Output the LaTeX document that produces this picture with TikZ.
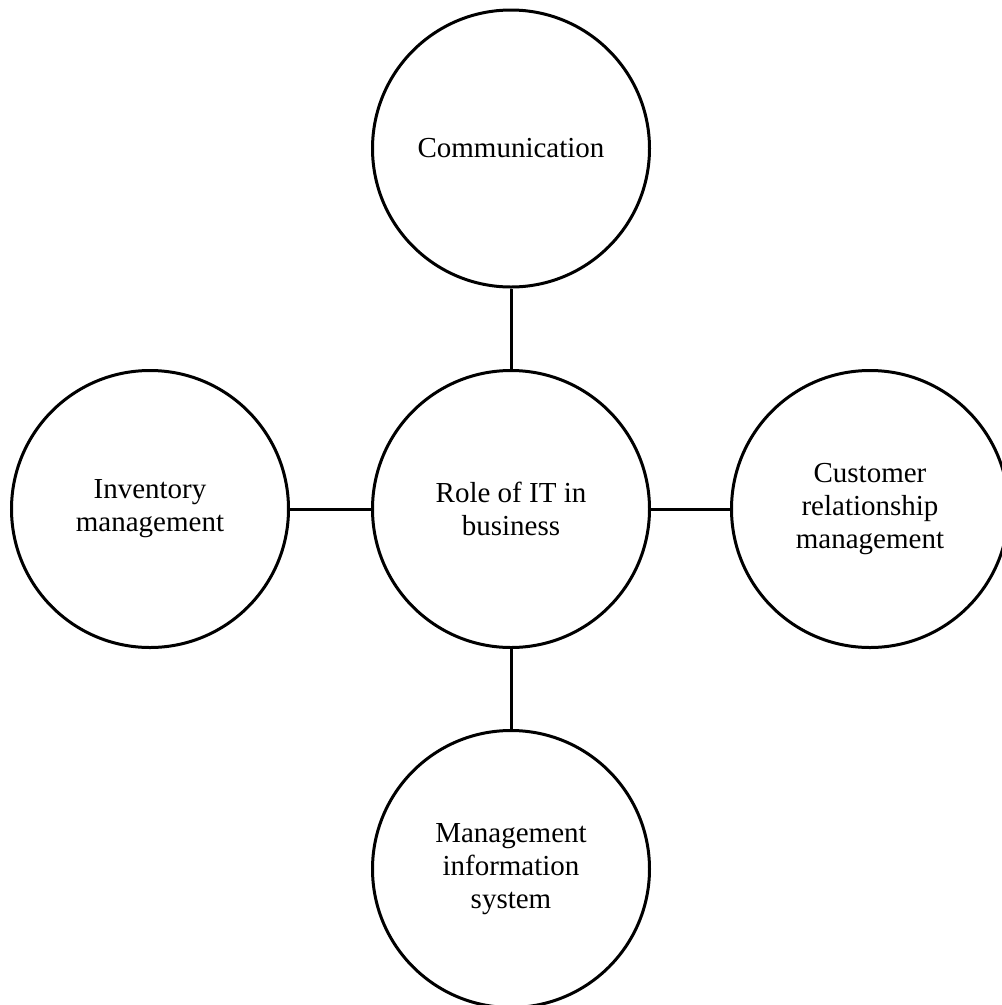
\documentclass[tikz,border=0pt]{standalone}
\usepackage{fontspec}
\setmainfont{Liberation Serif}
\begin{document}
\begin{tikzpicture}[x=1pt,y=-1pt,
  topic/.style={draw, circle, line width=3pt, minimum size=277pt, inner sep=0pt,
    align=center, font=\fontsize{29}{33}\selectfont},
  link/.style={line width=3pt}]
\useasboundingbox (0,0) rectangle (1002,1005);
\node[topic] (core) at (511,509) {Role of IT in\\business};
\node[topic] (comm) at (511,148.5) {Communication};
\node[topic] (inv) at (150,509) {Inventory\\management};
\node[topic] (crm) at (870,509) {Customer\\relationship\\management};
\node[topic] (mis) at (511,869) {Management\\information\\system};
\draw[link] (core) -- (comm);
\draw[link] (core) -- (inv);
\draw[link] (core) -- (crm);
\draw[link] (core) -- (mis);
\end{tikzpicture}
\end{document}
